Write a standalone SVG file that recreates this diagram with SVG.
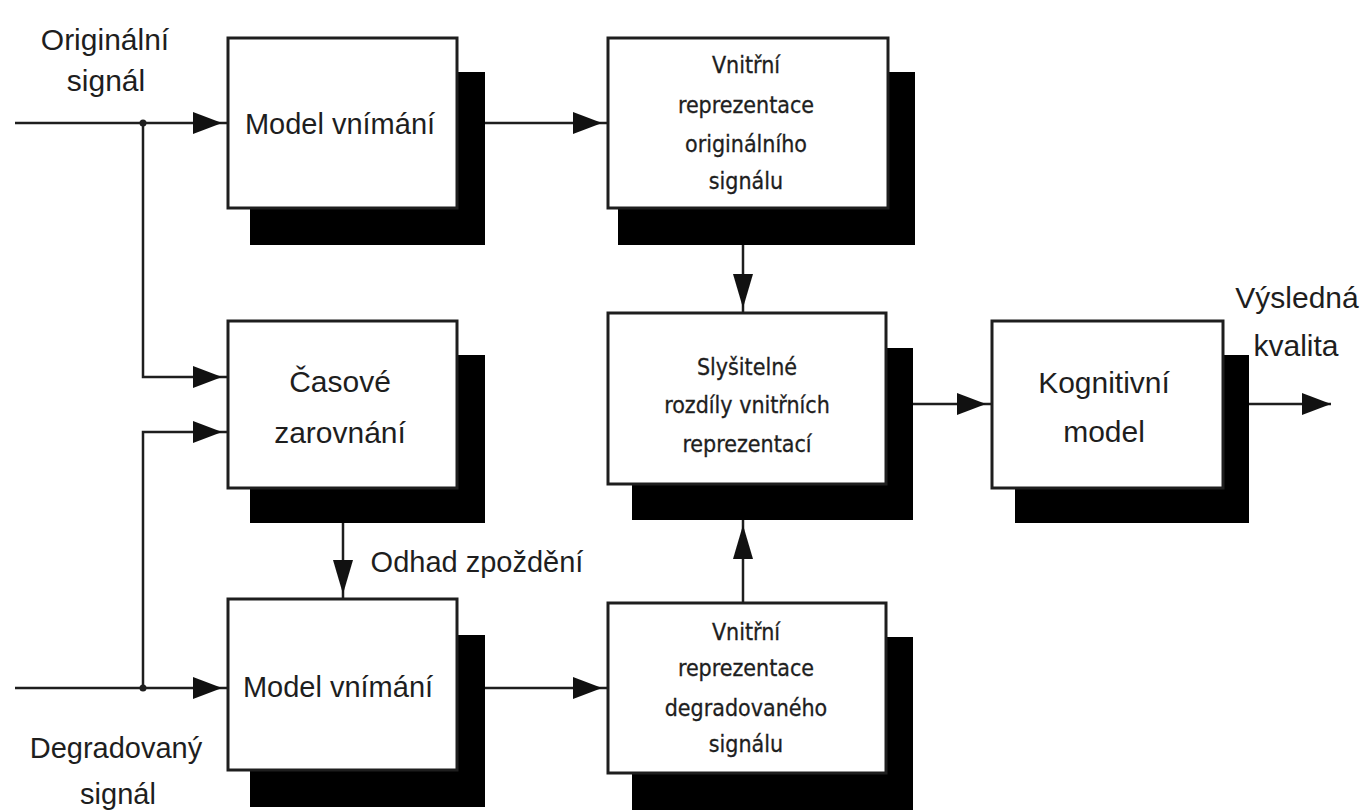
<svg xmlns="http://www.w3.org/2000/svg" width="1364" height="812" viewBox="0 0 1364 812">
<style>
.bg{fill:#ffffff}
.shadow{fill:#000000}
.box{fill:#ffffff;stroke:#1e1e1e;stroke-width:3}
.wire{fill:none;stroke:#1e1e1e;stroke-width:2.5}
.dot{fill:#1e1e1e}
.t{font-family:"Liberation Sans",Arial,sans-serif;fill:#1e1e1e;text-anchor:middle}
.big{font-size:30px}
.mid{font-size:29px}
.small{font-family:"DejaVu Sans Condensed","Liberation Sans",sans-serif;font-stretch:condensed;font-size:23px;stroke:#1e1e1e;stroke-width:0.3}
</style>
<defs>
<marker id="ah" markerUnits="userSpaceOnUse" markerWidth="40" markerHeight="24" refX="35" refY="11" orient="auto">
<path d="M0,0 L29,11 L0,22 Z" fill="#111"/>
</marker>
<marker id="ahEnd" markerUnits="userSpaceOnUse" markerWidth="40" markerHeight="24" refX="29" refY="11" orient="auto">
<path d="M0,0 L29,11 L0,22 Z" fill="#111"/>
</marker>
<marker id="av" markerUnits="userSpaceOnUse" markerWidth="44" markerHeight="22" refX="39" refY="10" orient="auto">
<path d="M0,0 L34,10 L0,20 Z" fill="#111"/>
</marker>
</defs>
<rect class="bg" x="0" y="0" width="1364" height="812"/>

<g id="connectors">
<path class="wire" d="M15,123 H228" marker-end="url(#ah)"/>
<path class="wire" d="M143,123 V377 H228" marker-end="url(#ah)"/>
<path class="wire" d="M15,688 H228" marker-end="url(#ah)"/>
<path class="wire" d="M143,688 V432 H228" marker-end="url(#ah)"/>
<path class="wire" d="M485,123 H608" marker-end="url(#ah)"/>
<path class="wire" d="M485,688 H608" marker-end="url(#ah)"/>
<path class="wire" d="M743,245 V313" marker-end="url(#av)"/>
<path class="wire" d="M743,603 V520" marker-end="url(#av)"/>
<path class="wire" d="M343,523 V599" marker-end="url(#av)"/>
<path class="wire" d="M913,404 H992" marker-end="url(#ah)"/>
<path class="wire" d="M1249,404 H1331" marker-end="url(#ahEnd)"/>
<circle class="dot" cx="143" cy="123" r="3.5"/>
<circle class="dot" cx="143" cy="688" r="3.5"/>
</g>

<g id="labels">
<text class="t big" x="105" y="50">Originální</text>
<text class="t big" x="106" y="91">signál</text>
<text class="t mid" x="116" y="758">Degradovaný</text>
<text class="t mid" x="118" y="804">signál</text>
<text class="t mid" x="477" y="572">Odhad zpoždění</text>
<text class="t big" x="1297" y="308">Výsledná</text>
<text class="t big" x="1296" y="356">kvalita</text>
</g>

<g id="model-vnimani-orig">
<rect class="shadow" x="250" y="72" width="235" height="173"/>
<rect class="box" x="228" y="38" width="229" height="170"/>
<text class="t mid" x="340" y="134">Model vnímání</text>
</g>

<g id="vnitrni-orig">
<rect class="shadow" x="618" y="72" width="297" height="173"/>
<rect class="box" x="608" y="38" width="280" height="170"/>
<text class="t small" x="746" y="73">Vnitřní</text>
<text class="t small" x="746" y="113">reprezentace</text>
<text class="t small" x="746" y="152">originálního</text>
<text class="t small" x="746" y="189">signálu</text>
</g>

<g id="casove-zarovnani">
<rect class="shadow" x="250" y="355" width="235" height="168"/>
<rect class="box" x="228" y="321" width="229" height="167"/>
<text class="t big" x="340" y="392">Časové</text>
<text class="t big" x="340" y="443">zarovnání</text>
</g>

<g id="slysitelne-rozdily">
<rect class="shadow" x="632" y="348" width="281" height="172"/>
<rect class="box" x="608" y="313" width="278" height="171"/>
<text class="t small" x="747" y="375">Slyšitelné</text>
<text class="t small" x="747" y="413">rozdíly vnitřních</text>
<text class="t small" x="747" y="452">reprezentací</text>
</g>

<g id="kognitivni-model">
<rect class="shadow" x="1015" y="355" width="234" height="168"/>
<rect class="box" x="992" y="321" width="231" height="167"/>
<text class="t big" x="1104" y="393">Kognitivní</text>
<text class="t big" x="1104" y="442">model</text>
</g>

<g id="model-vnimani-degr">
<rect class="shadow" x="250" y="635" width="235" height="172"/>
<rect class="box" x="228" y="599" width="229" height="171"/>
<text class="t mid" x="338" y="697">Model vnímání</text>
</g>

<g id="vnitrni-degr">
<rect class="shadow" x="632" y="637" width="281" height="173"/>
<rect class="box" x="608" y="603" width="278" height="170"/>
<text class="t small" x="746" y="640">Vnitřní</text>
<text class="t small" x="746" y="676">reprezentace</text>
<text class="t small" x="746" y="716">degradovaného</text>
<text class="t small" x="746" y="752">signálu</text>
</g>
</svg>
